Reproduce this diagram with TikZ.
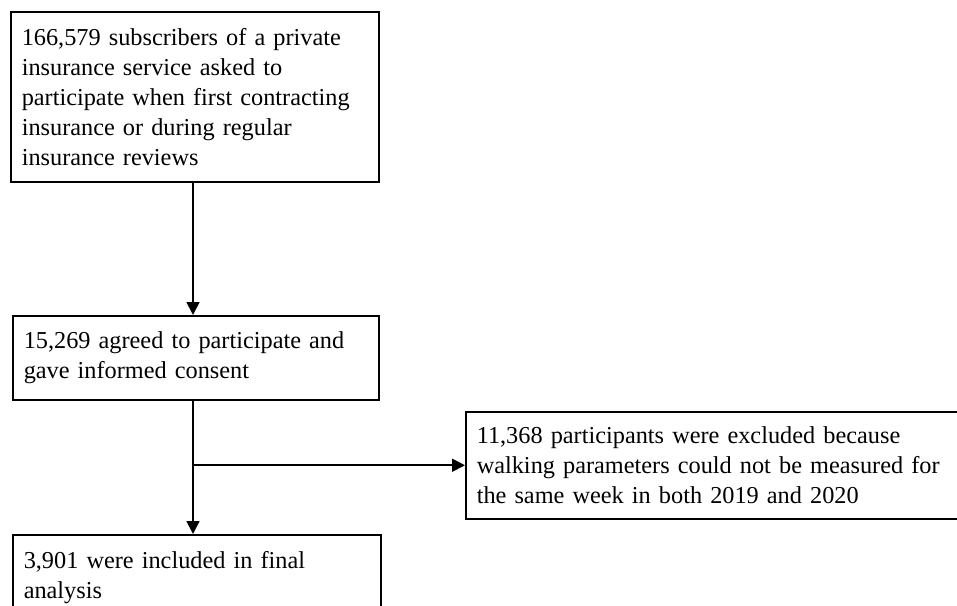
\documentclass[tikz,border=0pt]{standalone}
\usepackage{fontspec}
\setmainfont{Liberation Serif}
\usetikzlibrary{arrows.meta}
\tikzset{
  flowbox/.style={draw, line width=1.5pt, inner xsep=11pt, inner ysep=0pt, anchor=north west,
    align=left, font=\fontsize{24.3}{30}\selectfont},
  arr/.style={line width=1.8pt, -{Triangle[width=13pt,length=13pt]}}
}
\begin{document}
\begin{tikzpicture}[x=1pt,y=-1pt]
\useasboundingbox (0,0) rectangle (957,605);
\clip (0,0) rectangle (957,605);
\node[flowbox, minimum width=368pt, minimum height=170pt, text width=346pt] (box1) at (10,11)
  {166,579 subscribers of a private\\insurance service asked to\\participate when first contracting\\insurance or during regular\\insurance reviews};
\node[flowbox, minimum width=366pt, minimum height=84pt, text width=344pt] (box2) at (12,315)
  {15,269 agreed to participate and\\gave informed consent};
\node[flowbox, minimum width=368pt, minimum height=86pt, text width=346pt] (box3) at (12,534)
  {3,901 were included in final\\analysis};
\node[flowbox, minimum width=530pt, minimum height=107pt, text width=508pt] (box4) at (465,411)
  {11,368 participants were excluded because\\walking parameters could not be measured for\\the same week in both 2019 and 2020};
\coordinate (spine) at (193,0);
\draw[arr] (spine |- box1.south) -- (spine |- box2.north);
\draw[arr] (spine |- box2.south) -- (spine |- box3.north);
\draw[arr] (spine |- box4.west) -- (box4.west);
\end{tikzpicture}
\end{document}
